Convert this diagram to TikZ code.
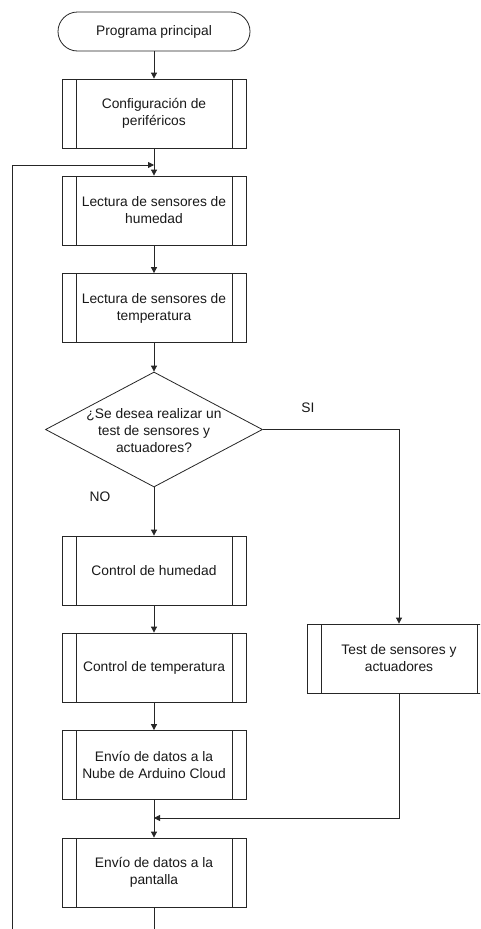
\documentclass[tikz,border=0pt]{standalone}
\usepackage{fontspec}
\setmainfont{Liberation Sans}
\usetikzlibrary{shapes.geometric,arrows.meta}
\begin{document}
\begin{tikzpicture}[x=1pt,y=-1pt,
  every node/.style={font=\fontsize{13.8}{17}\selectfont, text=black!90},
  ln/.style={draw=black!85, line width=0.8pt},
  arr/.style={ln, -{Triangle[length=6pt,width=6pt]}},
  term/.style={draw=black!85, line width=0.8pt, rounded corners=19.5pt, minimum width=192pt, minimum height=39pt, inner sep=0pt},
  proc/.style={draw=black!85, line width=0.8pt, minimum width=184pt, minimum height=69pt, inner sep=0pt, align=center,
    path picture={\draw[black!85, line width=0.8pt]
      ([xshift=14pt]path picture bounding box.north west) -- ([xshift=14pt]path picture bounding box.south west)
      ([xshift=-14pt]path picture bounding box.north east) -- ([xshift=-14pt]path picture bounding box.south east);}},
  dia/.style={diamond, draw=black!85, line width=0.8pt, minimum width=217pt, minimum height=115pt, inner sep=0pt},
  lbl/.style={inner sep=0pt}
]
\useasboundingbox (0,0) rectangle (480,929);
\fill[white] (0,0) rectangle (480,929);
\clip (0,0) rectangle (480,929);

\node[term] (start) at (154,31.5) {Programa principal};
\node[proc] (config) at (154,113.5) {Configuración de\\periféricos};
\node[proc] (lhum) at (154,210.5) {Lectura de sensores de\\humedad};
\node[proc] (ltemp) at (154,308) {Lectura de sensores de\\temperatura};
\node[dia] (dec) at (154,429.5) {};
\node[lbl, align=center] (dect) at (154,431) {¿Se desea realizar un\\test de sensores y\\actuadores?};
\node[proc] (chum) at (154,570.5) {Control de humedad};
\node[proc] (ctemp) at (154,667.5) {Control de temperatura};
\node[proc] (nube) at (154,765) {Envío de datos a la\\Nube de Arduino Cloud};
\node[proc] (pant) at (154,872.5) {Envío de datos a la\\pantalla};
\node[proc] (test) at (399,658.5) {Test de sensores y\\actuadores};

\node[lbl] (si) at (308,408) {SI};
\node[lbl] (no) at (100,497) {NO};

\coordinate (join1) at (154,165);
\coordinate (lb) at (12,945);
\coordinate (join2) at (154,818);
\coordinate (sicorner) at (399,429.5);

\draw[arr] (start) -- (config);
\draw[arr] (config) -- (lhum);
\draw[arr] (lhum) -- (ltemp);
\draw[arr] (ltemp) -- (dec);
\draw[arr] (dec.south) -- (chum);
\draw[arr] (chum) -- (ctemp);
\draw[arr] (ctemp) -- (nube);
\draw[arr] (nube) -- (pant);
\draw[arr] (dec.east) -- (sicorner) -- (test.north);
\draw[arr] (test.south) |- (join2);
\draw[arr] (pant.south) |- (lb) |- (join1);
\end{tikzpicture}
\end{document}
